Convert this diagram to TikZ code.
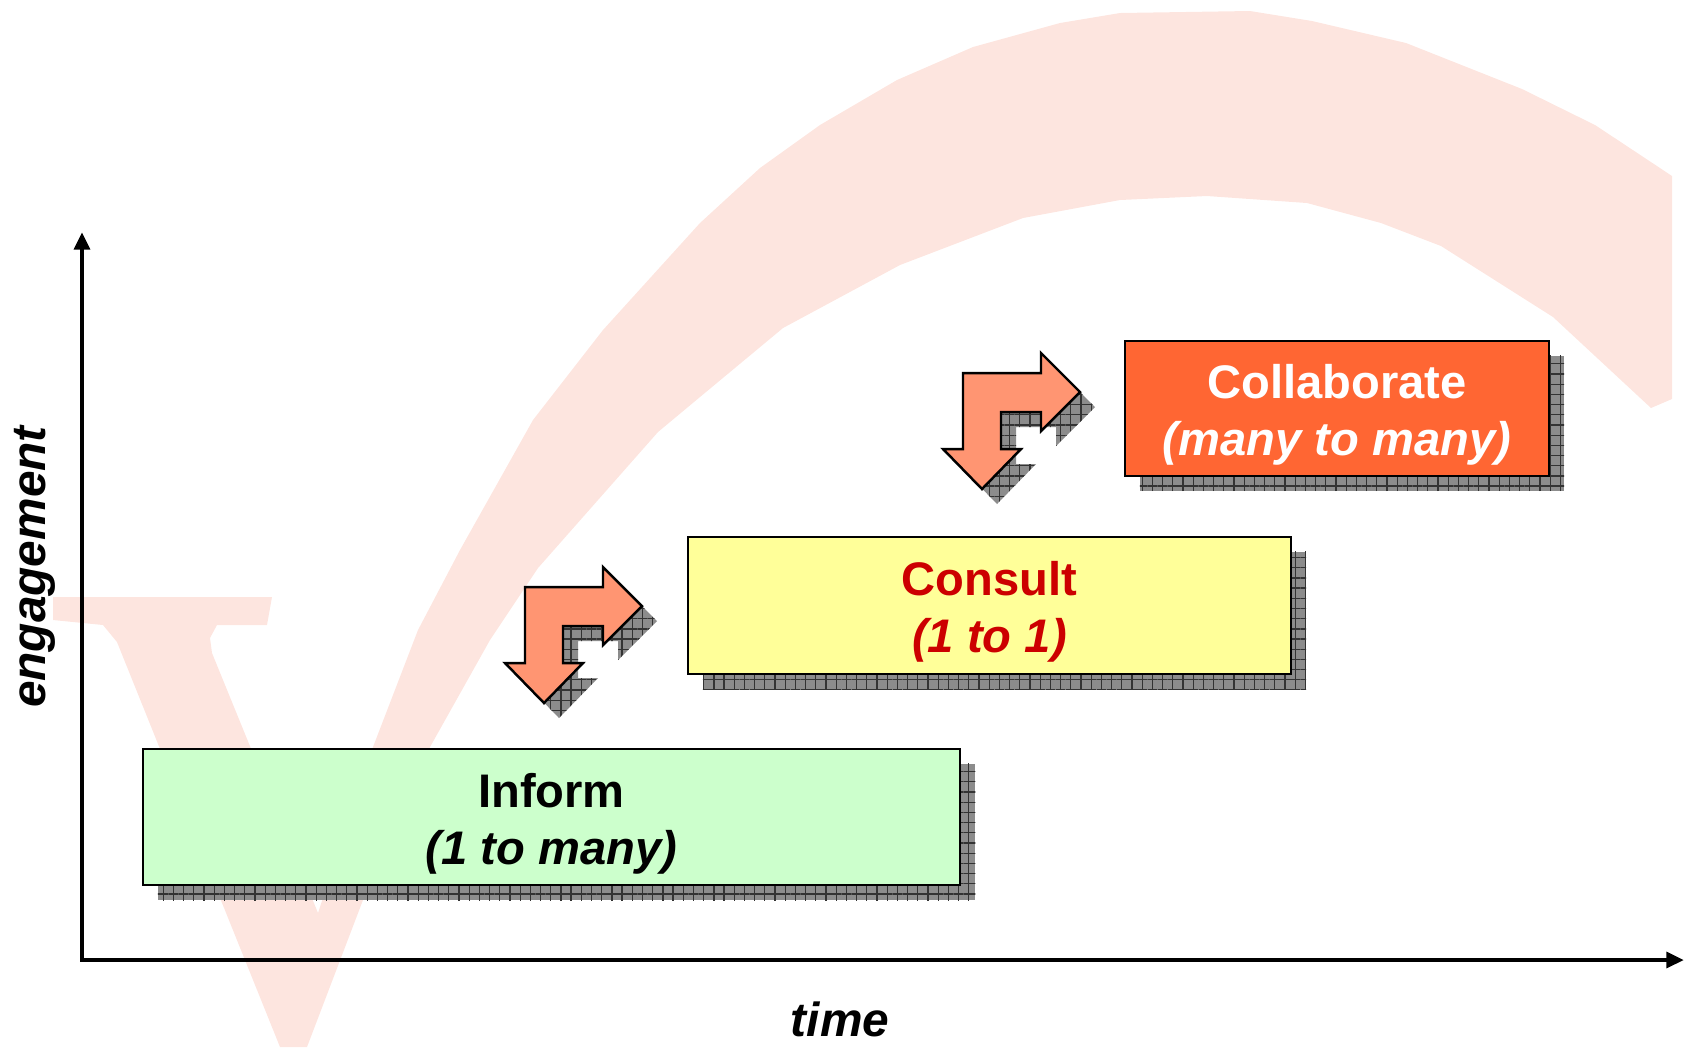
\documentclass[tikz,border=0pt]{standalone}
\usepackage{fontspec}
\setmainfont{Liberation Sans}
\usetikzlibrary{arrows.meta,patterns.meta,shadows}

\definecolor{vpink}{RGB}{253,229,223}
\definecolor{informgreen}{RGB}{204,255,204}
\definecolor{consultyellow}{RGB}{255,255,153}
\definecolor{collabred}{RGB}{255,102,51}
\definecolor{consulttext}{RGB}{204,0,0}
\definecolor{arrowsalmon}{RGB}{255,149,114}

\tikzset{
	hatched/.style={fill=black!45, postaction={pattern={Hatch[angle=0,distance=2.9pt,line width=0.35pt]}, pattern color=black!80}},
	stage/.style={draw=black, line width=0.6pt, align=center, inner sep=0pt,
		font=\bfseries\fontsize{13.4}{16.2}\selectfont, text height=29.6pt,
		general shadow={hatched, shadow xshift=0.15cm, shadow yshift=-0.15cm}},
	axislabel/.style={font=\bfseries\itshape\fontsize{13.6}{16}\selectfont},
	bentarrow/.style={fill=arrowsalmon, draw=black, line width=0.7pt, line join=miter},
}

\begin{document}
\begin{tikzpicture}[x=0.01cm, y=-0.01cm]
	\useasboundingbox (0,0) rectangle (1685,1047);

	% pale V with its arc behind everything
	\fill[vpink] (318,913) -- (373,747) -- (418,630) -- (460,550) -- (533,420) -- (603,330) -- (700,223) -- (760,168) -- (820,125) -- (897,80) -- (973,47) -- (1060,23) -- (1120,13) -- (1250,11) -- (1312,21) -- (1406,43) -- (1522,89) -- (1595,125) -- (1672,176)
		-- (1672,399) -- (1651,408) -- (1553,317) -- (1441,246) -- (1381,223) -- (1307,203) -- (1207,196) -- (1120,200) -- (1023,218) -- (900,265) -- (783,328) -- (700,397) -- (658,432) -- (538,568) -- (490,640) -- (430,747) -- (363,900) -- (307,1047)
		-- (280,1047) -- (117,642) -- (103,625) -- (53,620) -- (53,597) -- (272,597) -- (267,625) -- (217,625) -- (210,638) -- (212,653) -- cycle;

	% axes
	\coordinate (origin) at (82,960);
	\coordinate (ytop) at (82,232);
	\coordinate (xend) at (1684,960);
	\draw[line width=1.4pt, {Triangle[length=5pt,width=4.4pt]}-{Triangle[length=5pt,width=4.4pt]}] (ytop) -- (origin) -- (xend);
	\node[axislabel, rotate=90] (engagement) at (35,567) {engagement};
	\node[axislabel] (time) at (840,1019) {time};

	% stages
	\node[stage, fill=informgreen, minimum width=8.17cm, minimum height=1.36cm] (inform) at (551.5,817) {Inform\\\itshape(1 to many)};
	\node[stage, fill=consultyellow, text=consulttext, minimum width=6.03cm, minimum height=1.37cm] (consult) at (989.5,605.5) {Consult\\\itshape(1 to 1)};
	\node[stage, fill=collabred, text=white, minimum width=4.24cm, minimum height=1.35cm] (collab) at (1337,408.5) {Collaborate\\\itshape(many to many)};

	% two-way arrows between the stages
	\foreach \ax/\ay in {525/587, 963/373}{
		\fill[hatched, shift={(\ax+15,\ay+15)}] (0,0) -- (78,0) -- (78,-20) -- (117,19) -- (78,58) -- (78,39) -- (38,39) -- (38,76) -- (58,76) -- (19,116) -- (-20,76) -- (0,76) -- cycle;
		\draw[bentarrow, shift={(\ax,\ay)}] (0,0) -- (78,0) -- (78,-20) -- (117,19) -- (78,58) -- (78,39) -- (38,39) -- (38,76) -- (58,76) -- (19,116) -- (-20,76) -- (0,76) -- cycle;
	}
\end{tikzpicture}
\end{document}
